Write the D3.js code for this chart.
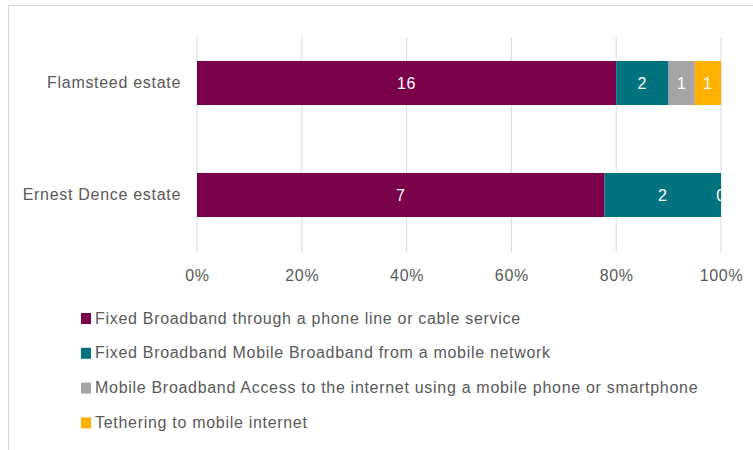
<!DOCTYPE html>
<html>
<head>
<meta charset="utf-8">
<script src="https://cdn.jsdelivr.net/npm/d3@7"></script>
<style>
  html, body { margin: 0; padding: 0; background: #ffffff; }
  svg { display: block; font-family: "Liberation Sans", Arial, sans-serif; }
</style>
</head>
<body>
<svg id="chart" width="753" height="450"></svg>
<script>
// Estates and the broadband type counts reported for each
const estates = ["Flamsteed estate", "Ernest Dence estate"];
const seriesNames = [
  "Fixed Broadband through a phone line or cable service",
  "Fixed Broadband Mobile Broadband from a mobile network",
  "Mobile Broadband Access to the internet using a mobile phone or smartphone",
  "Tethering to mobile internet"
];
const seriesColors = ["#790049", "#00737f", "#a5a5a5", "#ffb000"];
const fixedLine   = [16, 7];
const fixedMobile = [2, 2];
const mobileAccess = [1, 0];
const tethering   = [1, null];
const tickValues = [0, 0.2, 0.4, 0.6, 0.8, 1.0];

const seriesValues = [fixedLine, fixedMobile, mobileAccess, tethering];

const svg = d3.select("#chart");
const textColor = "#595959";
const fontSize = 16;
const spacing = 0.7;

// outer chart frame
svg.append("rect")
  .attr("x", 8.5).attr("y", 5.5)
  .attr("width", 760).attr("height", 460)
  .attr("fill", "none").attr("stroke", "#d9d9d9");

const plot = { left: 197, right: 721, top: 27, bottom: 251, gridTop: 37, gridBottom: 252 };

const x = d3.scaleLinear().domain([0, 1]).range([plot.left, plot.right]);
const y = d3.scaleBand().domain(estates)
  .range([plot.top, plot.bottom])
  .paddingInner(0.607).paddingOuter(0.3035);

// vertical gridlines
svg.append("g").selectAll("line").data(tickValues).join("line")
  .attr("x1", d => x(d)).attr("x2", d => x(d))
  .attr("y1", plot.gridTop).attr("y2", plot.gridBottom)
  .attr("stroke", "#d9d9d9").attr("stroke-width", 1);

// x axis tick labels
const xAxis = d3.axisBottom(x).tickValues(tickValues).tickFormat(d3.format(".0%")).tickSize(0).tickPadding(0);
const gx = svg.append("g").attr("transform", `translate(0,${plot.gridBottom + 24})`).call(xAxis);
gx.select(".domain").remove();
gx.selectAll("text")
  .attr("dy", "0.32em")
  .attr("fill", textColor)
  .style("font-size", fontSize + "px")
  .style("letter-spacing", spacing + "px")
  .style("font-family", "Liberation Sans, Arial, sans-serif");

// y axis category labels
const yAxis = d3.axisLeft(y).tickSize(0).tickPadding(16);
const gy = svg.append("g").attr("transform", `translate(${plot.left},0)`).call(yAxis);
gy.select(".domain").remove();
gy.selectAll("text")
  .attr("fill", textColor)
  .style("font-size", fontSize + "px")
  .style("letter-spacing", spacing + "px")
  .style("font-family", "Liberation Sans, Arial, sans-serif");

// stacked bars, normalised to each estate's total
const rows = estates.map((e, i) => {
  const vals = seriesValues.map(s => s[i]);
  const total = d3.sum(vals, v => v || 0);
  let acc = 0;
  return vals.map((v, k) => {
    const x0 = acc / total;
    acc += (v || 0);
    return { estate: e, series: k, value: v, x0, x1: acc / total };
  });
});
const segments = rows.flat();

svg.append("defs").append("clipPath").attr("id", "plotClip")
  .append("rect").attr("x", plot.left).attr("y", 0)
  .attr("width", plot.right - plot.left + 1).attr("height", 450);

svg.append("g").selectAll("rect").data(segments.filter(d => d.value)).join("rect")
  .attr("x", d => x(d.x0))
  .attr("width", d => x(d.x1) - x(d.x0))
  .attr("y", d => y(d.estate))
  .attr("height", y.bandwidth())
  .attr("fill", d => seriesColors[d.series]);

// value labels in the middle of each segment
svg.append("g").attr("clip-path", "url(#plotClip)")
  .selectAll("text").data(segments.filter(d => d.value !== null)).join("text")
  .attr("x", d => (x(d.x0) + x(d.x1)) / 2)
  .attr("y", d => y(d.estate) + y.bandwidth() / 2)
  .attr("dy", "0.35em")
  .attr("text-anchor", "middle")
  .attr("fill", "#ffffff")
  .style("font-size", fontSize + "px")
  .style("letter-spacing", spacing + "px")
  .text(d => d.value);

// legend
const legend = svg.append("g").attr("transform", "translate(81,318)");
const item = legend.selectAll("g").data(seriesNames).join("g")
  .attr("transform", (d, i) => `translate(0,${i * 34.8})`);
item.append("rect")
  .attr("x", 0).attr("y", -5).attr("width", 10).attr("height", 11)
  .attr("fill", (d, i) => seriesColors[i]);
item.append("text")
  .attr("x", 14).attr("y", 0).attr("dy", "0.35em")
  .attr("fill", textColor)
  .style("font-size", fontSize + "px")
  .style("letter-spacing", spacing + "px")
  .text(d => d);
</script>
</body>
</html>
